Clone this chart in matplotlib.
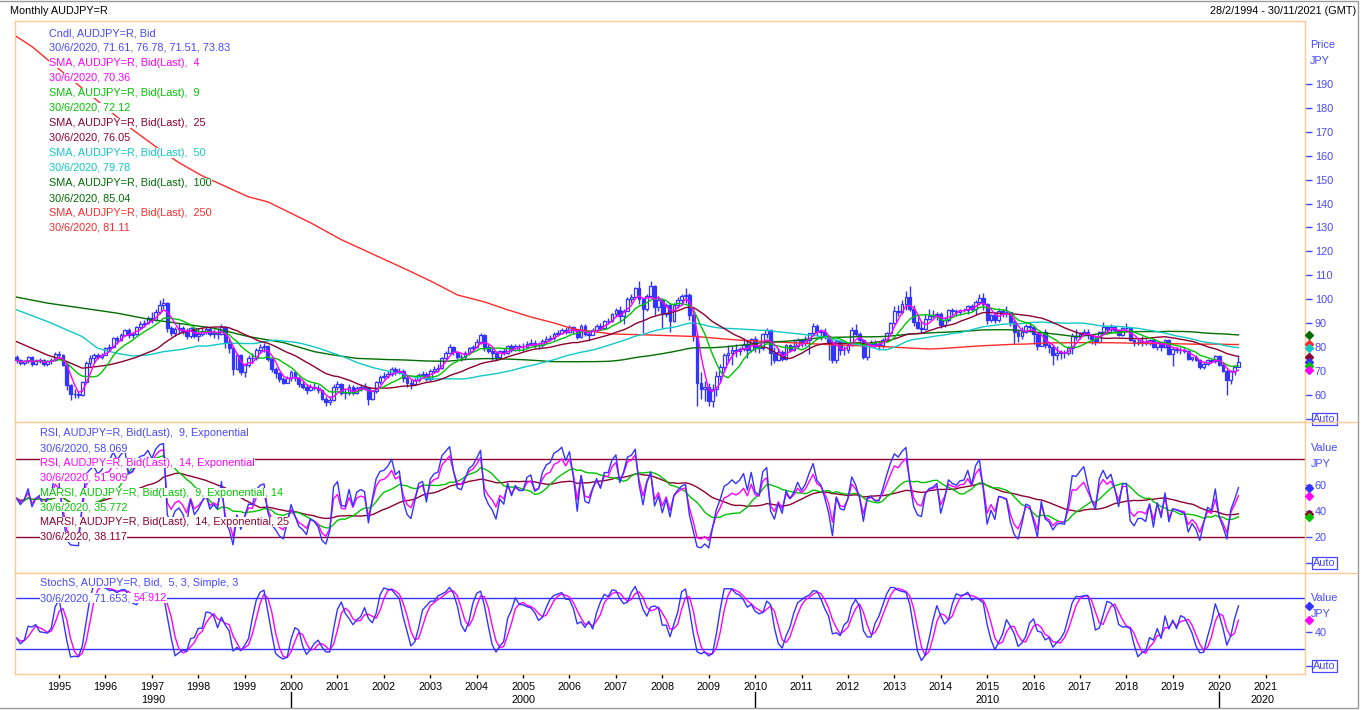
import numpy as np
import pandas as pd
import matplotlib
matplotlib.use("Agg")
import matplotlib.pyplot as plt
import matplotlib.transforms as mtransforms
from matplotlib.lines import Line2D

plt.rcParams['font.family'] = ['Liberation Sans', 'DejaVu Sans']
FS = 7.8

# ---------------- data (monthly, Feb 1994 .. Jun 2020) ----------------
months = pd.period_range('1994-02', '2020-06', freq='M')

close = [
    74.5, 73.2, 74.0, 75.8, 73.0, 74.2, 74.6, 72.8, 74.0, 74.7, 77.2,              # 1994 Feb-Dec
    76.5, 72.5, 64.0, 60.5, 60.2, 60.0, 65.4, 73.5, 75.5, 76.8, 75.8, 76.8,        # 1995
    79.6, 80.0, 83.7, 83.0, 85.0, 87.2, 85.0, 85.6, 88.3, 89.8, 90.2, 92.0,        # 1996
    91.5, 94.8, 97.5, 98.5, 88.0, 85.7, 87.5, 88.0, 86.8, 84.5, 87.8, 84.8,        # 1997
    85.5, 86.5, 87.5, 85.5, 86.0, 85.5, 88.5, 82.0, 79.5, 71.0, 76.5, 69.5,        # 1998
    72.5, 75.5, 75.3, 78.8, 80.0, 80.3, 75.0, 71.0, 69.2, 66.5, 65.2, 67.0,        # 1999
    69.5, 67.2, 64.5, 63.5, 62.0, 63.5, 63.0, 62.0, 58.5, 57.0, 58.0, 63.5,        # 2000
    64.5, 61.0, 60.8, 63.2, 60.8, 62.8, 63.2, 63.0, 58.5, 61.5, 65.5, 67.5,        # 2001
    67.8, 68.8, 70.8, 69.5, 70.2, 67.2, 65.2, 64.5, 66.2, 68.5, 68.8, 66.8,        # 2002
    70.0, 71.0, 71.3, 75.5, 77.5, 80.2, 78.0, 76.0, 75.8, 77.5, 79.5, 80.2,        # 2003
    82.0, 85.0, 80.0, 78.5, 77.5, 75.8, 78.2, 77.5, 80.5, 79.0, 80.5, 80.0,        # 2004
    80.0, 81.5, 81.8, 80.8, 81.0, 82.5, 83.5, 83.8, 85.5, 86.0, 87.0, 86.5,        # 2005
    88.2, 87.0, 84.2, 89.0, 85.5, 85.2, 87.2, 89.0, 88.0, 90.8, 90.8, 93.8,        # 2006
    95.5, 93.0, 95.2, 100.2, 101.0, 104.5, 100.0, 96.0, 101.5, 105.5, 96.8, 99.8,  # 2007
    94.0, 97.8, 91.0, 97.8, 99.8, 101.2, 101.8, 93.5, 84.8, 65.0, 62.5, 63.5,      # 2008
    57.5, 62.5, 68.0, 71.5, 76.5, 77.5, 79.0, 78.3, 79.2, 81.0, 78.7, 83.2,        # 2009
    80.0, 79.5, 85.5, 87.0, 77.5, 74.5, 78.0, 75.0, 80.8, 78.8, 80.3, 83.0,        # 2010
    81.6, 83.0, 85.8, 89.0, 86.8, 86.2, 84.5, 82.0, 74.8, 82.5, 79.0, 78.6,        # 2011
    81.0, 87.0, 85.5, 83.0, 76.0, 81.5, 82.0, 81.0, 81.0, 83.0, 86.0, 90.0,        # 2012
    95.0, 94.6, 98.0, 101.0, 96.0, 90.6, 88.0, 87.5, 91.7, 93.0, 93.3, 94.0,       # 2013
    89.3, 91.5, 95.5, 95.0, 94.8, 95.5, 95.6, 97.0, 96.0, 99.0, 100.6, 98.0,       # 2014
    91.5, 93.5, 91.3, 95.0, 94.8, 94.5, 90.5, 86.5, 84.5, 86.2, 88.8, 88.5,        # 2015
    85.5, 80.5, 86.2, 81.0, 79.9, 76.8, 77.6, 77.7, 77.5, 79.7, 84.5, 84.4,        # 2016
    85.5, 86.5, 85.0, 83.4, 82.3, 86.4, 88.2, 87.4, 88.2, 87.0, 85.1, 87.9,        # 2017
    88.0, 82.8, 81.6, 82.3, 82.3, 81.9, 83.1, 80.0, 82.2, 80.0, 83.0, 77.3,        # 2018
    79.2, 79.0, 78.7, 78.5, 75.0, 75.7, 74.6, 71.6, 73.0, 74.5, 74.1, 76.3,        # 2019
    72.5, 70.2, 66.1, 69.9, 71.61, 73.83,                                          # 2020 Jan-Jun
]
high = [
    76.5, 75.2, 74.8, 76.3, 76.2, 75.0, 75.5, 75.0, 74.6, 75.4, 77.8,
    78.3, 77.0, 73.0, 64.5, 62.5, 61.8, 66.0, 74.0, 76.5, 77.5, 77.6, 77.5,
    80.2, 81.5, 84.2, 84.5, 85.8, 87.6, 88.0, 86.5, 89.0, 91.0, 91.3, 93.0,
    94.5, 96.0, 99.5, 100.5, 99.0, 89.0, 88.5, 90.0, 88.8, 88.0, 88.5, 88.5,
    88.0, 87.8, 89.0, 88.5, 87.5, 88.0, 89.5, 89.0, 83.5, 80.5, 77.5, 77.0,
    73.5, 76.5, 77.5, 79.5, 81.5, 81.8, 80.8, 75.5, 71.8, 69.8, 67.5, 67.8,
    70.5, 70.0, 68.0, 66.0, 64.5, 64.5, 64.8, 64.0, 62.5, 59.5, 59.5, 64.5,
    66.0, 65.0, 62.5, 64.5, 64.0, 63.8, 64.5, 64.8, 63.5, 62.0, 66.0, 68.2,
    69.5, 70.0, 71.5, 71.5, 71.2, 70.8, 68.0, 66.5, 67.0, 69.0, 70.0, 69.5,
    70.8, 72.0, 73.0, 76.0, 78.5, 81.2, 80.5, 78.5, 77.0, 78.5, 80.0, 81.0,
    83.5, 85.8, 85.5, 81.5, 80.0, 78.5, 79.0, 79.5, 81.0, 81.5, 81.5, 81.5,
    81.8, 82.5, 83.5, 82.8, 82.0, 83.2, 84.5, 85.0, 86.2, 87.0, 88.0, 88.5,
    89.2, 88.8, 87.5, 89.5, 89.5, 86.8, 88.0, 89.6, 90.0, 91.5, 92.0, 94.2,
    96.5, 97.0, 95.8, 100.8, 102.2, 105.0, 107.5, 100.5, 102.2, 107.5, 105.8, 101.5,
    100.5, 98.5, 98.5, 98.5, 100.8, 102.0, 104.5, 102.5, 96.5, 86.0, 69.5, 66.0,
    65.0, 64.5, 70.0, 73.0, 77.5, 81.0, 80.5, 81.5, 80.0, 84.0, 82.5, 84.0,
    84.5, 81.0, 86.0, 88.0, 87.5, 80.0, 79.5, 79.0, 81.5, 81.5, 83.5, 83.8,
    83.5, 84.5, 86.0, 90.0, 89.5, 87.5, 88.0, 84.5, 83.0, 83.5, 82.8, 80.5,
    81.8, 88.2, 89.5, 86.5, 83.5, 82.0, 83.0, 83.0, 82.5, 84.0, 86.5, 90.5,
    97.0, 97.5, 99.5, 103.5, 105.5, 97.5, 93.5, 91.0, 94.0, 96.0, 95.5, 94.5,
    94.5, 92.5, 96.0, 96.5, 95.8, 96.0, 96.5, 97.5, 98.0, 99.5, 102.0, 102.8,
    98.5, 94.0, 94.5, 96.5, 96.0, 97.0, 94.5, 92.0, 87.5, 88.5, 89.5, 90.5,
    88.8, 85.5, 86.5, 87.5, 82.0, 81.0, 80.5, 79.0, 79.0, 80.5, 86.0, 87.5,
    86.5, 87.5, 87.5, 85.5, 85.0, 86.8, 90.3, 88.5, 89.5, 88.8, 87.5, 88.2,
    90.2, 88.5, 83.5, 84.0, 84.5, 83.5, 83.5, 83.5, 82.5, 82.5, 83.5, 83.5,
    80.0, 80.2, 80.0, 79.5, 78.6, 76.0, 76.5, 75.0, 73.8, 75.0, 75.0, 76.5,
    76.5, 73.5, 71.0, 70.5, 72.5, 76.78,
]
low = [
    73.5, 72.4, 72.5, 73.5, 72.3, 72.5, 73.4, 72.2, 72.3, 73.0, 74.2,
    75.2, 72.0, 62.0, 58.0, 58.8, 58.6, 59.5, 65.0, 72.0, 73.5, 75.0, 75.2,
    76.5, 78.5, 79.5, 81.5, 82.5, 84.5, 84.0, 83.8, 85.0, 87.5, 88.4, 89.5,
    90.0, 90.8, 94.0, 96.0, 86.5, 84.5, 84.8, 85.5, 85.5, 83.5, 84.0, 83.8,
    82.5, 84.5, 85.5, 84.5, 84.0, 83.5, 85.0, 79.5, 77.5, 68.5, 70.5, 68.5,
    67.5, 71.5, 73.5, 74.5, 77.5, 78.0, 74.0, 69.5, 67.0, 65.5, 64.5, 64.8,
    66.0, 66.0, 63.5, 62.5, 60.5, 61.5, 62.0, 61.0, 58.0, 55.5, 55.8, 57.5,
    62.0, 60.0, 58.5, 60.0, 60.0, 60.5, 61.5, 62.0, 56.0, 58.0, 61.0, 64.5,
    66.5, 67.0, 68.0, 68.5, 68.8, 65.5, 63.5, 62.5, 64.0, 65.5, 67.5, 66.0,
    66.0, 69.2, 69.5, 71.0, 74.5, 77.0, 76.5, 75.0, 74.0, 75.0, 76.5, 78.5,
    79.5, 81.5, 78.5, 77.5, 74.5, 74.5, 75.0, 76.5, 77.0, 78.0, 78.5, 78.5,
    78.5, 79.5, 80.5, 79.5, 79.2, 80.0, 81.5, 82.5, 82.8, 84.5, 85.5, 85.5,
    86.0, 85.5, 83.5, 84.0, 84.5, 83.0, 85.0, 86.5, 87.0, 88.0, 89.5, 90.5,
    92.5, 90.5, 89.5, 95.0, 98.5, 100.5, 98.0, 86.0, 95.0, 101.0, 93.5, 95.0,
    88.0, 92.5, 86.5, 90.5, 96.5, 97.5, 98.5, 91.5, 82.5, 55.5, 58.5, 57.5,
    55.5, 55.0, 59.5, 65.5, 69.5, 73.5, 72.5, 76.0, 76.5, 78.5, 75.5, 78.0,
    78.0, 77.5, 79.0, 84.0, 72.5, 73.5, 74.0, 74.0, 74.5, 78.0, 78.5, 79.5,
    80.0, 80.5, 77.0, 84.5, 84.5, 83.0, 83.5, 74.5, 73.5, 73.5, 76.5, 76.5,
    77.5, 80.5, 84.5, 82.0, 75.0, 74.5, 80.5, 80.0, 79.0, 79.5, 82.0, 85.5,
    89.5, 93.0, 94.0, 95.5, 95.0, 89.0, 87.5, 86.0, 87.0, 91.5, 92.0, 91.5,
    88.0, 88.5, 90.5, 93.5, 93.0, 93.5, 94.5, 94.0, 95.0, 93.5, 97.5, 95.5,
    89.5, 90.5, 90.0, 90.5, 92.5, 92.5, 89.0, 81.5, 82.0, 83.5, 86.0, 86.5,
    81.5, 79.0, 80.5, 79.5, 77.5, 72.5, 74.5, 75.0, 75.5, 76.5, 77.0, 83.0,
    83.5, 85.0, 83.5, 81.5, 81.0, 82.0, 86.0, 85.5, 86.0, 86.0, 84.5, 84.5,
    86.5, 82.5, 80.5, 81.0, 80.5, 81.0, 81.0, 79.5, 79.0, 78.5, 79.5, 76.5,
    72.3, 77.5, 77.0, 77.5, 74.8, 74.0, 74.0, 70.7, 71.0, 72.5, 73.5, 73.5,
    72.0, 69.5, 59.9, 64.5, 68.5, 71.51,
]
open_ = [76.0] + close[:-1]   # FX monthly bars open at the prior month's close

# early moving-average readings (before enough bars exist in this window)
sma25_early_m = [0, 4, 8, 13, 17, 21]
sma25_early_v = [82.3, 79.5, 76.7, 74.0, 71.2, 71.9]
sma50_early_m = [0, 8, 17, 21, 26, 30, 34, 38, 43, 47]
sma50_early_v = [95.6, 90.7, 84.4, 79.5, 77.4, 76.3, 76.7, 78.1, 79.1, 80.5]
sma100_early_m = [0, 8, 17, 26, 34, 43, 51, 60, 69, 77, 82, 88, 96]
sma100_early_v = [100.9, 98.4, 96.3, 94.2, 91.7, 89.7, 87.9, 84.4, 81.9, 78.1, 76.7, 75.3, 74.8]
sma250_early_m = [0, 4, 8, 30, 36, 42, 48, 60, 65, 76, 84, 101, 108, 114, 121, 127, 133,
                  139, 144, 154, 163, 176, 186, 212, 223, 236, 240]
sma250_early_v = [209.8, 205.6, 200.2, 170.9, 163.8, 157.1, 151.6, 142.8, 140.7, 132.0, 124.9,
                  112.3, 106.9, 101.8, 98.9, 95.6, 92.6, 90.1, 87.6, 85.5, 85.1, 84.4, 83.0,
                  80.9, 80.3, 79.2, 79.5]

years = list(range(1995, 2022))
decades = ["1990", "2000", "2010", "2020"]

# ---------------- colours ----------------
BLUE = '#3434ff'
TXTBLUE = '#4848ff'
MAG = '#ff00ff'
GRN = '#00c400'
MAROON = '#8c0030'
CYAN = '#10c8c8'
DKGRN = '#006e00'
RED = '#ff2a2a'
ORANGE = '#ffc992'

c = np.array(close, float); h = np.array(high, float); l = np.array(low, float); o = np.array(open_, float)
N = len(c)
xm = np.arange(N)
cs = pd.Series(c)

def sma_joined(n, em, ev):
    comp = cs.rolling(n).mean().to_numpy()
    xs = list(em) + list(range(n - 1, N))
    ys = list(ev) + list(comp[n - 1:])
    return np.array(xs), np.array(ys)

sma4 = cs.rolling(4, min_periods=1).mean().to_numpy()
sma9 = cs.rolling(9, min_periods=1).mean().to_numpy()
x25, s25 = sma_joined(25, sma25_early_m, sma25_early_v)
x50, s50 = sma_joined(50, sma50_early_m, sma50_early_v)
x100, s100 = sma_joined(100, sma100_early_m, sma100_early_v)
x250, s250 = sma_joined(250, sma250_early_m, sma250_early_v)

def rsi_exp(vals, n, seed=1.5):
    alpha = 2.0 / (n + 1)
    ag = al = seed
    out = [50.0]
    for i in range(1, len(vals)):
        d = vals[i] - vals[i - 1]
        ag = (1 - alpha) * ag + alpha * max(d, 0)
        al = (1 - alpha) * al + alpha * max(-d, 0)
        out.append(100 * ag / (ag + al))
    return np.array(out)

rsi9 = rsi_exp(c, 9)
rsi14 = rsi_exp(c, 14)
marsi9 = pd.Series(rsi9).rolling(14, min_periods=1).mean().to_numpy()
marsi14 = pd.Series(rsi14).rolling(25, min_periods=1).mean().to_numpy()

hh = pd.Series(h).rolling(5, min_periods=1).max()
ll = pd.Series(l).rolling(5, min_periods=1).min()
raw = 100 * (cs - ll) / (hh - ll)
stk = raw.rolling(3, min_periods=1).mean().to_numpy()
std = pd.Series(stk).rolling(3, min_periods=1).mean().to_numpy()

# ---------------- figure ----------------
W, H = 1362, 710
fig = plt.figure(figsize=(W / 100, H / 100), dpi=100)
L, R = 15, 1305

def ax_at(top, bot):
    return fig.add_axes([L / W, 1 - bot / H, (R - L) / W, (bot - top) / H])

ax1 = ax_at(21, 422)
ax2 = ax_at(422, 573)
ax3 = ax_at(573, 674)
XMIN, XMAX = -0.39, 333.2
for ax in (ax1, ax2, ax3):
    ax.set_xlim(XMIN, XMAX)
    for sp in ax.spines.values():
        sp.set_color(ORANGE); sp.set_linewidth(1)
    ax.yaxis.tick_right()
    ax.tick_params(axis='y', direction='out', length=5, width=1, color=TXTBLUE,
                   labelcolor=TXTBLUE, labelsize=FS, pad=2)
ax1.set_ylim(48.7, 216.3)
ax2.set_ylim(-7.5, 108.7)
ax3.set_ylim(-9.1, 109.8)
ax1.set_xticks([]); ax2.set_xticks([])

# candles
up = c >= o
bot_ = np.minimum(o, c); hgt = np.maximum(np.abs(c - o), 0.15)
ax1.vlines(xm, l, h, color=BLUE, lw=1, zorder=2)
ax1.bar(xm[up], hgt[up], bottom=bot_[up], width=0.72, facecolor='white', edgecolor=BLUE, lw=0.9, zorder=3)
ax1.bar(xm[~up], hgt[~up], bottom=bot_[~up], width=0.72, facecolor=BLUE, edgecolor=BLUE, lw=0.9, zorder=3)
LW = 1.0
ax1.plot(x250, s250, color=RED, lw=LW, zorder=4)
ax1.plot(x100, s100, color=DKGRN, lw=LW, zorder=4)
ax1.plot(x50, s50, color=CYAN, lw=LW, zorder=4)
ax1.plot(x25, s25, color=MAROON, lw=LW, zorder=4)
ax1.plot(xm, sma9, color=GRN, lw=LW, zorder=4)
ax1.plot(xm, sma4, color=MAG, lw=LW, zorder=4)
ax1.set_yticks(list(range(50, 200, 10)), [''] + [str(v) for v in range(60, 200, 10)])

# RSI
ax2.axhline(80, color=MAROON, lw=1); ax2.axhline(20, color=MAROON, lw=1)
ax2.plot(xm, marsi14, color=MAROON, lw=LW)
ax2.plot(xm, marsi9, color=GRN, lw=LW)
ax2.plot(xm, rsi14, color=MAG, lw=LW)
ax2.plot(xm, rsi9, color=BLUE, lw=LW)
ax2.set_yticks([0, 20, 40, 60], ['', '20', '40', '60'])

# Stoch
ax3.axhline(80, color=BLUE, lw=1); ax3.axhline(20, color=BLUE, lw=1)
ax3.plot(xm, std, color=MAG, lw=LW)
ax3.plot(xm, stk, color=BLUE, lw=LW)
ax3.set_yticks([0, 40], ['', '40'])

# right-edge value markers
tr = lambda ax: mtransforms.blended_transform_factory(ax.transAxes, ax.transData)
XD = (1309 - L) / (R - L)
for ax, vals in ((ax1, [(s100[-1], DKGRN), (s250[-1], RED), (s50[-1], CYAN), (s25[-1], MAROON),
                        (c[-1], BLUE), (sma9[-1], GRN), (sma4[-1], MAG)]),
                 (ax2, [(rsi9[-1], BLUE), (rsi14[-1], MAG), (marsi14[-1], MAROON), (marsi9[-1], GRN)]),
                 (ax3, [(stk[-1], BLUE), (std[-1], MAG)])):
    for v, col in vals:
        ax.plot([XD], [v], marker='D', ms=4.5, color=col, transform=tr(ax), clip_on=False, zorder=6)

XA = (1313 - L) / (R - L)
for ax, v in ((ax1, 50), (ax2, 0), (ax3, 0)):
    ax.text(XA, v, 'Auto', transform=tr(ax), color=TXTBLUE, fontsize=FS, va='center', ha='left',
            bbox=dict(facecolor='white', edgecolor=TXTBLUE, pad=0.8, lw=0.9))

def ftext(x, y, s, col, **kw):
    return fig.text(x / W, 1 - y / H, s, color=col, fontsize=FS, va='center', ha='left', **kw)

ftext(1310, 45, 'Price', TXTBLUE); ftext(1310, 61, 'JPY', TXTBLUE)
ftext(1311, 448, 'Value', TXTBLUE); ftext(1311, 464, 'JPY', TXTBLUE)
ftext(1311, 598, 'Value', TXTBLUE); ftext(1311, 614, 'JPY', TXTBLUE)

# x axis
ypos = [(y - 1994) * 12 - 1 for y in years]
ax3.set_xticks(ypos, [str(y) for y in years])
ax3.tick_params(axis='x', direction='out', length=3, width=1, color='black', labelsize=FS, pad=3)
dec_b = [XMIN, 71, 191, 311, XMAX]
btr = mtransforms.blended_transform_factory(ax3.transData, fig.transFigure)
for i, lab in enumerate(decades):
    fig.text((dec_b[i] + dec_b[i + 1]) / 2, 1 - 700 / H, lab, transform=btr, fontsize=FS,
             ha='center', va='center', color='black')
for b in dec_b[1:4]:
    fig.add_artist(Line2D([b, b], [1 - 692 / H, 1 - 707 / H], transform=btr, color='black', lw=1))

# separators across right label area, frame
for yy in (422, 573):
    fig.add_artist(Line2D([R / W, 1358 / W], [1 - yy / H] * 2, color=ORANGE, lw=1))
fig.add_artist(Line2D([0, 1358 / W, 1358 / W, 0],
                      [1 - 1 / H, 1 - 1 / H, 1 - 708 / H, 1 - 708 / H], color='#9a9a9a', lw=1))

# headers
ftext(10, 11, 'Monthly AUDJPY=R', 'black')
fig.text(1356 / W, 1 - 11 / H, '28/2/1994 - 30/11/2021 (GMT)', fontsize=FS, ha='right', va='center', color='black')

WB = dict(facecolor='white', edgecolor='none', pad=0)
price_leg = [("Cndl, AUDJPY=R, Bid", TXTBLUE), ("30/6/2020, 71.61, 76.78, 71.51, 73.83", TXTBLUE),
             ("SMA, AUDJPY=R, Bid(Last),  4", MAG), ("30/6/2020, 70.36", MAG),
             ("SMA, AUDJPY=R, Bid(Last),  9", GRN), ("30/6/2020, 72.12", GRN),
             ("SMA, AUDJPY=R, Bid(Last),  25", MAROON), ("30/6/2020, 76.05", MAROON),
             ("SMA, AUDJPY=R, Bid(Last),  50", CYAN), ("30/6/2020, 79.78", CYAN),
             ("SMA, AUDJPY=R, Bid(Last),  100", DKGRN), ("30/6/2020, 85.04", DKGRN),
             ("SMA, AUDJPY=R, Bid(Last),  250", RED), ("30/6/2020, 81.11", RED)]
for i, (t, col) in enumerate(price_leg):
    ftext(49, 33 + 15 * i, t, col, bbox=WB, zorder=10)
rsi_leg = [("RSI, AUDJPY=R, Bid(Last),  9, Exponential", TXTBLUE), ("30/6/2020, 58.069", TXTBLUE),
           ("RSI, AUDJPY=R, Bid(Last),  14, Exponential", MAG), ("30/6/2020, 51.909", MAG),
           ("MARSI, AUDJPY=R, Bid(Last),  9, Exponential, 14", GRN), ("30/6/2020, 35.772", GRN),
           ("MARSI, AUDJPY=R, Bid(Last),  14, Exponential, 25", MAROON), ("30/6/2020, 38.117", MAROON)]
for i, (t, col) in enumerate(rsi_leg):
    ftext(40, 433.3 + 14.8 * i, t, col, bbox=WB, zorder=10)
ftext(40, 583.3, "StochS, AUDJPY=R, Bid,  5, 3, Simple, 3", TXTBLUE, bbox=WB, zorder=10)
t1 = ftext(40, 598.3, "30/6/2020, 71.653, ", TXTBLUE, bbox=WB, zorder=10)
fig.canvas.draw()
bb = t1.get_window_extent()
fig.text(bb.x1 / W, 1 - 598.3 / H, "54.912", color=MAG, fontsize=FS, va='center', ha='left', bbox=WB, zorder=10)

fig.savefig('out.png', dpi=100)
